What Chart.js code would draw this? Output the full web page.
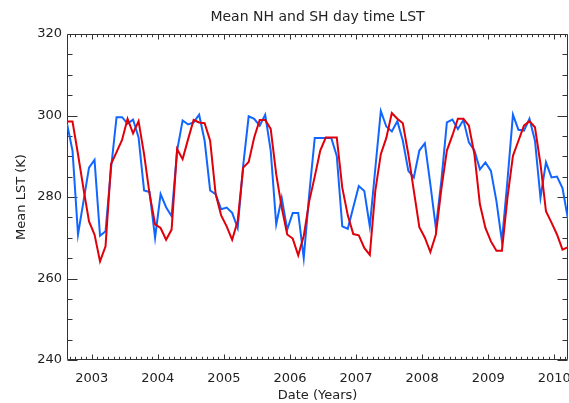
<!DOCTYPE html>
<html>
<head>
<meta charset="utf-8">
<title>Mean NH and SH day time LST</title>
<script src="https://cdn.jsdelivr.net/npm/chart.js@4.4.1/dist/chart.umd.min.js"></script>
<style>
  html, body { margin: 0; padding: 0; background: #fff; }
  canvas { display: block; }
</style>
</head>
<body>
<canvas id="lstChart" width="569" height="403"></canvas>
<script>
// monthly means, first value is Aug 2002
const firstYear = 2002;
const firstMonth = 8;
const yearTicks = [2003, 2004, 2005, 2006, 2007, 2008, 2009, 2010];
const lstTicks = [240, 260, 280, 300, 320];

// blue curve
const nhLST = [
  298, 291.4, 270.8, 279, 287.2, 289.1, 270.5, 271.6, 287, 299.6,
  299.6, 298, 299, 294.6, 281.6, 281.2, 270, 280.7, 277.5, 275.3,
  291.4, 298.8, 297.8, 298.3, 300.2, 293.8, 281.6, 280.7, 277, 277.4,
  276.1, 272.4, 287.7, 299.8, 299.2, 297.5, 300.2, 291.4, 273.3, 279.8,
  272, 276.1, 276.1, 265, 280.7, 294.5, 294.5, 294.5, 294.5, 290.1,
  272.8, 272.2, 277.5, 282.7, 281.5, 272.8, 287, 301.1, 297.3, 296.1,
  298.6, 293.8, 286.4, 284.8, 291.4, 293.2, 283.1, 272.4, 284, 298.3,
  299, 296.7, 298.9, 293.4, 291.4, 286.8, 288.5, 286.4, 279, 269.1,
  284, 300.2, 296.5, 296.3, 299.2, 293.8, 279.8, 288.5, 284.8, 285,
  282.2, 274.5
];

// red curve
const shLST = [
  298.5, 298.5, 290.5, 282, 274, 270.8, 264.2, 267.9, 288.1, 291,
  294, 299.2, 295.6, 298.6, 290.5, 280.7, 273.3, 272.4, 269.5, 272,
  291.8, 289.3, 294.2, 298.9, 298.3, 298.1, 293.8, 280.7, 275.5, 272.8,
  269.5, 274.1, 287.2, 288.6, 294.6, 298.9, 298.9, 296.7, 285.6, 277.4,
  270.8, 269.8, 265.7, 270.4, 279, 285, 291.4, 294.6, 294.6, 294.6,
  282.3, 275.5, 270.9, 270.6, 267.5, 265.8, 281.5, 290.5, 294.5, 300.6,
  299.2, 298.1, 290.5, 281.5, 272.6, 270, 266.5, 270.8, 282, 291.4,
  295.1, 299.2, 299.2, 297.5, 290.5, 278.2, 272.4, 269.1, 266.8, 266.8,
  279.8, 290.1, 293.8, 297.5, 298.6, 297.1, 288.1, 276.5, 273.7, 270.8,
  267.1, 267.7
];

// mid-month as decimal year
const monthTime = i => firstYear + (firstMonth - 0.5 + i) / 12;
const toPoints = arr => arr.map((v, i) => ({ x: monthTime(i), y: v }));

const textColor = '#222';
const axisFont = { family: 'DejaVu Sans', size: 13, weight: 'normal' };

// IDL style box with inward ticks on all four sides
const idlAxes = {
  id: 'idlAxes',
  afterLayout(chart) {
    // center the title over the plot box, not the whole canvas
    const tb = chart.titleBlock;
    if (tb) {
      tb.left = chart.chartArea.left;
      tb.right = chart.chartArea.right;
    }
  },
  beforeDatasetsDraw(chart) {
    const { ctx, chartArea: a, scales: { x, y } } = chart;
    const L = a.left + 0.5, R = a.right - 0.5, T = a.top + 0.5, B = a.bottom - 0.5;
    ctx.save();
    ctx.strokeStyle = '#333';
    ctx.lineWidth = 1;
    ctx.beginPath();
    ctx.rect(L, T, R - L, B - T);
    for (let v = y.min; v <= y.max; v += 5) {
      const py = Math.round(y.getPixelForValue(v)) + 0.5;
      const len = v % 20 === 0 ? 10 : 5;
      ctx.moveTo(L, py); ctx.lineTo(L + len, py);
      ctx.moveTo(R, py); ctx.lineTo(R - len, py);
    }
    for (let m = Math.ceil(x.min * 12); m <= x.max * 12; m++) {
      const px = Math.round(x.getPixelForValue(m / 12)) + 0.5;
      const len = m % 12 === 0 ? 5 : 2.7;
      ctx.moveTo(px, B); ctx.lineTo(px, B - len);
      ctx.moveTo(px, T); ctx.lineTo(px, T + len);
    }
    ctx.stroke();
    ctx.restore();
  }
};

const ctx = document.getElementById('lstChart').getContext('2d');
new Chart(ctx, {
  type: 'line',
  data: {
    datasets: [
      { label: 'NH', data: toPoints(nhLST), borderColor: '#1166ff', order: 2 },
      { label: 'SH', data: toPoints(shLST), borderColor: '#e0000a', order: 1 }
    ]
  },
  options: {
    responsive: false,
    animation: false,
    devicePixelRatio: 1,
    layout: { padding: { left: 0, right: 1, top: 0, bottom: 0 } },
    elements: {
      line: { borderWidth: 2, tension: 0, fill: false },
      point: { radius: 0 }
    },
    plugins: {
      legend: { display: false },
      tooltip: { enabled: false },
      title: {
        display: true,
        text: 'Mean NH and SH day time LST',
        color: textColor,
        font: { family: 'DejaVu Sans', size: 14, weight: 'normal' },
        padding: { top: 8.6, bottom: 8.6 }
      }
    },
    scales: {
      x: {
        type: 'linear',
        min: monthTime(0),
        max: monthTime(nhLST.length - 1),
        afterBuildTicks: s => { s.ticks = yearTicks.map(v => ({ value: v })); },
        afterFit: s => {
          s.height = 43;
          // let the last year label run off the edge like the original
          s.paddingLeft = 0;
          s.paddingRight = 0;
        },
        grid: { display: false, drawTicks: false },
        border: { display: false },
        ticks: {
          autoSkip: false, maxRotation: 0, padding: 10.5,
          color: textColor, font: axisFont,
          callback: v => String(v)
        },
        title: {
          display: true, text: 'Date (Years)', color: textColor,
          font: axisFont, padding: { top: 0, bottom: 0 }
        }
      },
      y: {
        min: 240,
        max: 320,
        afterBuildTicks: s => { s.ticks = lstTicks.map(v => ({ value: v })); },
        afterFit: s => { s.width = 67; },
        grid: { display: false, drawTicks: false },
        border: { display: false },
        ticks: { padding: 5, color: textColor, font: axisFont },
        title: {
          display: true, text: 'Mean LST (K)', color: textColor,
          font: axisFont, padding: { top: 13.7, bottom: 0 }
        }
      }
    }
  },
  plugins: [idlAxes]
});
</script>
</body>
</html>
